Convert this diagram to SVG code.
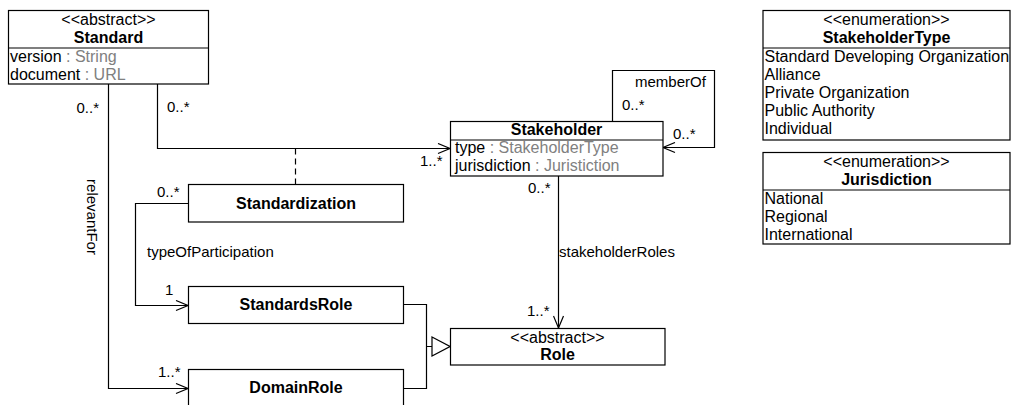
<svg xmlns="http://www.w3.org/2000/svg" width="1011" height="405" viewBox="0 0 1011 405">
  <style>
    .box{fill:#fff;stroke:#000;stroke-width:1.2}
    .sep{stroke:#000;stroke-width:1.2}
    .t{font-family:"Liberation Sans",Arial,Helvetica,sans-serif;font-size:16px;fill:#000}
    .b{font-weight:bold}
    .c{text-anchor:middle}
    .e{text-anchor:end}
    .g{fill:#808080}
    .lbl{font-family:"Liberation Sans",Arial,Helvetica,sans-serif;font-size:15px;fill:#000}
    .edge{fill:none;stroke:#000;stroke-width:1.2}
    .dash{stroke-dasharray:6 4}
  </style>
  <defs>
    <marker id="open" viewBox="0 0 14 12" refX="13" refY="6" markerWidth="14" markerHeight="12" markerUnits="userSpaceOnUse" orient="auto">
      <path d="M1,1 L13,6 L1,11" fill="none" stroke="#000" stroke-width="1.2"/>
    </marker>
    <marker id="gen" viewBox="0 0 20 22" refX="19" refY="11" markerWidth="20" markerHeight="22" markerUnits="userSpaceOnUse" orient="auto">
      <path d="M1,1.5 L19,11 L1,20.5 Z" fill="#fff" stroke="#000" stroke-width="1.2"/>
    </marker>
  </defs>

  <!-- connectors -->
  <g id="connectors">
    <!-- Standard -> Stakeholder -->
    <path class="edge" d="M157.5,84 V148.5 H450" marker-end="url(#open)"/>
    <!-- association class link -->
    <path class="edge dash" d="M295.5,148.5 V184"/>
    <!-- Standard relevantFor DomainRole -->
    <path class="edge" d="M108.5,84 V388.5 H188" marker-end="url(#open)"/>
    <!-- Standardization typeOfParticipation StandardsRole -->
    <path class="edge" d="M188,203.5 H135.5 V305.5 H188" marker-end="url(#open)"/>
    <!-- memberOf self association -->
    <path class="edge" d="M612.5,121 V70.5 H714.5 V147.5 H663" marker-end="url(#open)"/>
    <!-- Stakeholder -> Role -->
    <path class="edge" d="M558.5,176 V328" marker-end="url(#open)"/>
    <!-- generalization of roles -->
    <path class="edge" d="M403,304.5 H426.5 V388.5 H403 M426.5,346.5 H450" marker-end="url(#gen)"/>

    <!-- connector labels -->
    <text class="lbl e" x="99" y="113">0..*</text>
    <text class="lbl" x="167" y="112">0..*</text>
    <text class="lbl" x="420" y="166">1..*</text>
    <text class="lbl" x="87" y="217" text-anchor="middle" transform="rotate(90 87 217)">relevantFor</text>
    <text class="lbl" x="157" y="197">0..*</text>
    <text class="lbl" x="147" y="257">typeOfParticipation</text>
    <text class="lbl" x="165" y="295">1</text>
    <text class="lbl" x="158" y="377">1..*</text>
    <text class="lbl" x="635" y="87">memberOf</text>
    <text class="lbl" x="622" y="110">0..*</text>
    <text class="lbl" x="673" y="139">0..*</text>
    <text class="lbl" x="528" y="193">0..*</text>
    <text class="lbl" x="559" y="257">stakeholderRoles</text>
    <text class="lbl" x="527" y="316">1..*</text>
  </g>

  <!-- Standard -->
  <g id="standard">
    <rect class="box" x="8.5" y="10.5" width="200" height="73.5"/>
    <line class="sep" x1="8.5" y1="48" x2="208.5" y2="48"/>
    <text class="t c" x="108.5" y="25">&lt;&lt;abstract&gt;&gt;</text>
    <text class="t b c" x="108.5" y="43">Standard</text>
    <text class="t" x="10" y="62">version<tspan class="g"> : String</tspan></text>
    <text class="t" x="10" y="80">document<tspan class="g"> : URL</tspan></text>
  </g>

  <!-- Stakeholder -->
  <g id="stakeholder">
    <rect class="box" x="450.5" y="121.5" width="212.5" height="54.5"/>
    <line class="sep" x1="450.5" y1="140" x2="663" y2="140"/>
    <text class="t b c" x="556.5" y="135">Stakeholder</text>
    <text class="t" x="455" y="153">type<tspan class="g"> : StakeholderType</tspan></text>
    <text class="t" x="455" y="171">jurisdiction<tspan class="g"> : Juristiction</tspan></text>
  </g>

  <!-- Standardization (association class) -->
  <g id="standardization">
    <rect class="box" x="188.5" y="184.5" width="215" height="37.5"/>
    <text class="t b c" x="296" y="208.5">Standardization</text>
  </g>

  <!-- StandardsRole -->
  <g id="standardsRole">
    <rect class="box" x="188.5" y="286.5" width="215" height="37"/>
    <text class="t b c" x="296" y="310">StandardsRole</text>
  </g>

  <!-- DomainRole -->
  <g id="domainRole">
    <rect class="box" x="188.5" y="369.5" width="215" height="38"/>
    <text class="t b c" x="296" y="393">DomainRole</text>
  </g>

  <!-- Role -->
  <g id="role">
    <rect class="box" x="450.5" y="328.5" width="214.5" height="36.5"/>
    <text class="t c" x="557.5" y="343">&lt;&lt;abstract&gt;&gt;</text>
    <text class="t b c" x="557.5" y="360">Role</text>
  </g>

  <!-- StakeholderType enumeration -->
  <g id="stakeholderType">
    <rect class="box" x="763" y="10.5" width="247" height="129.5"/>
    <line class="sep" x1="763" y1="48" x2="1010" y2="48"/>
    <text class="t c" x="886.5" y="25">&lt;&lt;enumeration&gt;&gt;</text>
    <text class="t b c" x="886.5" y="43">StakeholderType</text>
    <text class="t" x="764.5" y="62">Standard Developing Organization</text>
    <text class="t" x="764.5" y="80">Alliance</text>
    <text class="t" x="764.5" y="98">Private Organization</text>
    <text class="t" x="764.5" y="116">Public Authority</text>
    <text class="t" x="764.5" y="134">Individual</text>
  </g>

  <!-- Jurisdiction enumeration -->
  <g id="jurisdiction">
    <rect class="box" x="763" y="152.5" width="247" height="91.5"/>
    <line class="sep" x1="763" y1="190" x2="1010" y2="190"/>
    <text class="t c" x="886.5" y="167">&lt;&lt;enumeration&gt;&gt;</text>
    <text class="t b c" x="886.5" y="185">Jurisdiction</text>
    <text class="t" x="764.5" y="204">National</text>
    <text class="t" x="764.5" y="222">Regional</text>
    <text class="t" x="764.5" y="240">International</text>
  </g>
</svg>
